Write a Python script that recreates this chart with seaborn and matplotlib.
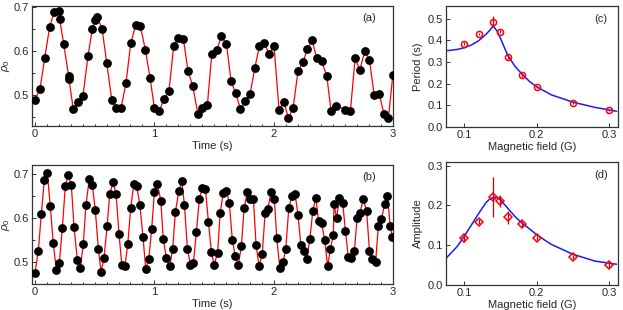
import numpy as np
import seaborn as sns
import matplotlib
matplotlib.use('Agg')
from matplotlib import pyplot as plt
from matplotlib.ticker import MultipleLocator

# panel (a): rho_0 vs time
t_a = [0.000, 0.042, 0.081, 0.123, 0.162, 0.204, 0.206, 0.240, 0.282, 0.284,
       0.321, 0.363, 0.402, 0.444, 0.480, 0.503, 0.522, 0.562, 0.601, 0.643,
       0.682, 0.721, 0.763, 0.802, 0.844, 0.883, 0.925, 0.964, 1.000, 1.042,
       1.081, 1.123, 1.162, 1.201, 1.243, 1.282, 1.322, 1.364, 1.402, 1.444,
       1.481, 1.523, 1.562, 1.604, 1.643, 1.682, 1.721, 1.763, 1.802, 1.842,
       1.880, 1.922, 1.961, 2.003, 2.045, 2.085, 2.123, 2.163, 2.204, 2.244,
       2.283, 2.322, 2.361, 2.403, 2.445, 2.481, 2.523, 2.601, 2.643, 2.682,
       2.722, 2.764, 2.802, 2.842, 2.884, 2.923, 2.961, 2.998]
rho_a = [0.489, 0.514, 0.583, 0.655, 0.689, 0.691, 0.673, 0.616, 0.543, 0.536,
         0.468, 0.485, 0.498, 0.589, 0.649, 0.669, 0.677, 0.650, 0.573, 0.489,
         0.471, 0.470, 0.528, 0.617, 0.659, 0.656, 0.602, 0.539, 0.471, 0.464,
         0.491, 0.510, 0.611, 0.630, 0.627, 0.555, 0.520, 0.458, 0.470, 0.477,
         0.592, 0.602, 0.633, 0.616, 0.531, 0.504, 0.468, 0.486, 0.502, 0.562,
         0.610, 0.617, 0.593, 0.611, 0.466, 0.485, 0.447, 0.471, 0.555, 0.574,
         0.604, 0.624, 0.583, 0.577, 0.542, 0.464, 0.476, 0.467, 0.464, 0.583,
         0.557, 0.600, 0.580, 0.499, 0.502, 0.458, 0.447, 0.545]

# panel (b): rho_0 vs time
t_b = [0.000, 0.028, 0.053, 0.078, 0.103, 0.128, 0.153, 0.179, 0.204, 0.229,
       0.254, 0.279, 0.304, 0.327, 0.355, 0.380, 0.405, 0.427, 0.455, 0.480,
       0.505, 0.531, 0.553, 0.578, 0.604, 0.626, 0.654, 0.679, 0.704, 0.727,
       0.754, 0.777, 0.802, 0.827, 0.852, 0.878, 0.905, 0.928, 0.953, 0.978,
       1.000, 1.025, 1.054, 1.075, 1.101, 1.129, 1.154, 1.176, 1.205, 1.230,
       1.252, 1.277, 1.302, 1.327, 1.352, 1.377, 1.402, 1.428, 1.453, 1.478,
       1.500, 1.530, 1.551, 1.577, 1.604, 1.628, 1.653, 1.678, 1.704, 1.729,
       1.752, 1.779, 1.802, 1.830, 1.852, 1.878, 1.904, 1.928, 1.951, 1.978,
       2.005, 2.026, 2.051, 2.079, 2.101, 2.127, 2.154, 2.179, 2.203, 2.228,
       2.253, 2.277, 2.303, 2.328, 2.353, 2.376, 2.401, 2.427, 2.452, 2.475,
       2.500, 2.505, 2.527, 2.551, 2.578, 2.601, 2.625, 2.651, 2.676, 2.699,
       2.724, 2.751, 2.779, 2.802, 2.827, 2.854, 2.877, 2.903, 2.930, 2.953,
       2.976, 2.994]
rho_b = [0.475, 0.526, 0.610, 0.686, 0.702, 0.628, 0.543, 0.481, 0.498, 0.578,
         0.672, 0.699, 0.676, 0.580, 0.504, 0.486, 0.542, 0.630, 0.690, 0.676,
         0.619, 0.530, 0.478, 0.508, 0.581, 0.655, 0.681, 0.655, 0.564, 0.494,
         0.492, 0.540, 0.623, 0.677, 0.673, 0.630, 0.557, 0.483, 0.507, 0.576,
         0.659, 0.678, 0.640, 0.552, 0.509, 0.490, 0.530, 0.614, 0.661, 0.684,
         0.630, 0.530, 0.493, 0.497, 0.568, 0.643, 0.668, 0.666, 0.592, 0.522,
         0.494, 0.520, 0.611, 0.657, 0.662, 0.635, 0.551, 0.513, 0.494, 0.536,
         0.622, 0.660, 0.643, 0.643, 0.539, 0.490, 0.519, 0.611, 0.620, 0.660,
         0.644, 0.554, 0.486, 0.500, 0.530, 0.624, 0.651, 0.655, 0.608, 0.538,
         0.524, 0.507, 0.553, 0.617, 0.646, 0.594, 0.588, 0.551, 0.490, 0.530,
         0.562, 0.632, 0.600, 0.645, 0.635, 0.571, 0.511, 0.508, 0.526, 0.600,
         0.612, 0.644, 0.615, 0.526, 0.507, 0.500, 0.583, 0.598, 0.632, 0.651,
         0.583, 0.556]

# panel (c): period vs field
field = [0.10, 0.12, 0.14, 0.15, 0.16, 0.18, 0.20, 0.25, 0.30]
period = [0.385, 0.430, 0.486, 0.441, 0.324, 0.238, 0.184, 0.109, 0.076]
period_err = [0.006, 0.005, 0.025, 0.006, 0.008, 0.006, 0.005, 0.004, 0.004]
fit_c_x = [0.075, 0.09, 0.10, 0.11, 0.12, 0.13, 0.135, 0.14, 0.145, 0.15, 0.155,
           0.16, 0.17, 0.18, 0.19, 0.20, 0.22, 0.25, 0.28, 0.30, 0.31]
fit_c_y = [0.352, 0.358, 0.366, 0.379, 0.399, 0.428, 0.446, 0.467, 0.445, 0.410, 0.370,
           0.332, 0.280, 0.243, 0.210, 0.185, 0.148, 0.114, 0.090, 0.078, 0.072]

# panel (d): amplitude vs field
amp = [0.118, 0.159, 0.222, 0.211, 0.170, 0.153, 0.119, 0.071, 0.049]
amp_err = [0.010, 0.006, 0.050, 0.016, 0.017, 0.007, 0.005, 0.005, 0.006]
fit_d_x = [0.075, 0.09, 0.10, 0.11, 0.12, 0.13, 0.135, 0.14, 0.145, 0.15, 0.16,
           0.17, 0.18, 0.19, 0.20, 0.22, 0.25, 0.28, 0.31]
fit_d_y = [0.067, 0.096, 0.122, 0.151, 0.180, 0.207, 0.216, 0.220, 0.221, 0.214, 0.193,
           0.172, 0.155, 0.141, 0.126, 0.102, 0.077, 0.060, 0.052]

sns.set_style('ticks')
plt.rcParams['font.family'] = ['Liberation Sans', 'DejaVu Sans']
plt.rcParams['mathtext.fontset'] = 'custom'
plt.rcParams['mathtext.it'] = 'Liberation Sans:italic'
plt.rcParams['mathtext.rm'] = 'Liberation Sans'
FS = 8

fig = plt.figure(figsize=(6.23, 3.10), dpi=100)
ax_a = fig.add_axes([0.0514, 0.594, 0.5795, 0.387])
ax_b = fig.add_axes([0.0514, 0.084, 0.5795, 0.384])
ax_c = fig.add_axes([0.716, 0.591, 0.276, 0.390])
ax_d = fig.add_axes([0.716, 0.081, 0.276, 0.396])


def style(ax):
    for s in ax.spines.values():
        s.set_linewidth(0.9)
        s.set_color('#333333')
    ax.tick_params(direction='in', which='both', labelsize=FS, width=0.7, color='#333333',
                   top=False, right=False, pad=2.5)
    ax.tick_params(which='major', length=3)
    ax.tick_params(which='minor', length=1.8)


for ax, t, r, lab, yl in [(ax_a, t_a, rho_a, '(a)', (0.43, 0.702)),
                          (ax_b, t_b, rho_b, '(b)', (0.45, 0.721))]:
    sns.lineplot(x=t, y=r, ax=ax, sort=False, color='red', lw=0.9, estimator=None)
    sns.scatterplot(x=t, y=r, ax=ax, color='black', s=40, edgecolor='black', linewidth=0, zorder=3)
    ax.set_xlim(-0.025, 3.0)
    ax.set_ylim(*yl)
    ax.xaxis.set_major_locator(MultipleLocator(1))
    ax.xaxis.set_minor_locator(MultipleLocator(0.1))
    ax.yaxis.set_major_locator(MultipleLocator(0.1))
    ax.yaxis.set_minor_locator(MultipleLocator(0.05))
    ax.set_xlabel('Time (s)', fontsize=FS, labelpad=1)
    ax.set_ylabel(r'$\rho_0$', fontsize=FS, labelpad=1)
    ax.text(0.935, 0.87, lab, transform=ax.transAxes, fontsize=FS, ha='center')
    style(ax)

for ax, y, yerr, fx, fy, mk, ms, lab, ylab, ytop in [
        (ax_c, period, period_err, fit_c_x, fit_c_y, 'o', 4.4, '(c)', 'Period (s)', 0.56),
        (ax_d, amp, amp_err, fit_d_x, fit_d_y, 'D', 4.2, '(d)', 'Amplitude', 0.309)]:
    sns.lineplot(x=fx, y=fy, ax=ax, sort=False, color='#1a1aff', lw=1.1, estimator=None)
    ax.errorbar(field, y, yerr=yerr, fmt=mk, ms=ms, mfc='none', mec='red', mew=1.1,
                ecolor='#cc0000', elinewidth=0.9, capsize=0, zorder=3)
    ax.set_xlim(0.075, 0.312)
    ax.set_ylim(0, ytop)
    ax.xaxis.set_major_locator(MultipleLocator(0.1))
    ax.yaxis.set_major_locator(MultipleLocator(0.1))
    ax.set_xlabel('Magnetic field (G)', fontsize=FS, labelpad=1)
    ax.set_ylabel(ylab, fontsize=FS, labelpad=3)
    ax.text(0.9, 0.87, lab, transform=ax.transAxes, fontsize=FS, ha='center')
    style(ax)

fig.savefig('out.png', dpi=100)
